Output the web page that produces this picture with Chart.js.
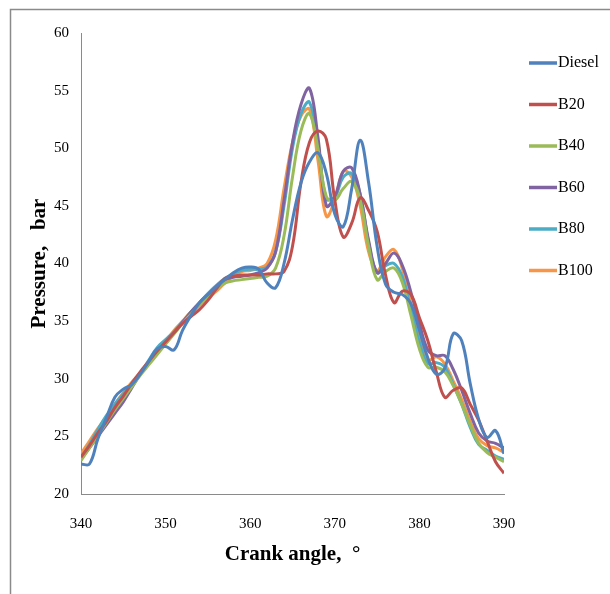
<!DOCTYPE html>
<html>
<head>
<meta charset="utf-8">
<script src="https://cdn.jsdelivr.net/npm/chart.js@4/dist/chart.umd.min.js"></script>
<style>
  html, body { margin: 0; padding: 0; background: #fff; }
  #wrap { width: 610px; height: 594px; }
</style>
</head>
<body>
<div id="wrap"><canvas id="c" width="610" height="594"></canvas></div>
<script>
// crank angle, degrees
var angles = [340,341,342,343,344,345,346,347,348,349,350,351,352,353,354,355,356,357,358,359,
              360,361,362,363,364,365,366,367,368,369,370,371,372,373,374,375,376,377,378,379,
              380,381,382,383,384,385,386,387,388,389,390];

// cylinder pressure, bar
var diesel = [22.6,22.6,24.8,26.6,28.4,29.1,29.5,30.4,31.5,32.6,32.8,32.5,34.2,35.5,36.6,37.3,38.0,38.6,39.2,39.6,
              39.7,39.5,38.3,37.9,40.0,43.8,47.0,48.8,49.6,47.8,44.3,43.2,46.5,50.7,47.0,41.5,38.2,37.5,37.3,36.5,
              34.2,31.8,30.4,30.9,33.9,33.3,29.6,26.5,24.9,25.5,23.5];
var b20    = [23.2,24.2,25.3,26.3,27.5,28.5,29.6,30.6,31.5,32.4,33.2,34.0,34.8,35.4,36.0,36.8,37.8,38.7,38.9,39.0,
              39.0,39.0,39.1,39.1,39.3,41.5,47.0,50.5,51.5,50.8,45.5,42.3,43.5,45.7,44.6,42.8,39.0,36.6,37.6,37.3,
              35.3,33.3,30.6,28.4,29.0,29.2,27.8,26.4,24.6,22.8,21.8];
var b40    = [22.9,24.0,25.1,26.2,27.3,28.3,29.3,30.3,31.2,32.1,33.0,33.9,34.8,35.6,36.4,37.1,37.8,38.3,38.5,38.6,
              38.7,38.8,38.9,39.6,42.4,47.5,51.5,53.0,50.0,45.8,45.5,46.5,47.1,45.5,41.5,38.6,39.3,39.6,38.3,35.5,
              32.6,31.0,31.0,30.6,29.4,27.8,26.0,24.4,23.6,23.2,22.8];
var b60    = [23.0,24.0,25.0,26.0,27.0,28.0,29.2,30.4,31.4,32.3,33.1,34.0,34.9,35.8,36.6,37.3,38.0,38.6,38.8,38.9,
              39.0,39.2,39.6,41.0,45.5,50.5,53.8,55.2,51.0,45.0,45.8,48.0,48.3,46.0,42.0,39.2,40.0,40.9,39.8,37.5,
              34.8,32.5,32.0,32.0,30.8,29.0,27.0,25.3,24.6,24.4,24.0];
var b80    = [23.1,24.3,25.6,26.8,27.8,28.7,29.5,30.4,31.6,32.7,33.4,34.1,34.9,35.8,36.6,37.4,38.1,38.7,39.1,39.4,
              39.5,39.5,39.7,41.0,45.0,50.0,53.0,54.0,50.5,45.6,45.8,47.5,47.8,46.0,41.8,39.2,39.8,40.0,38.8,36.0,
              33.2,31.3,31.4,31.0,29.5,27.8,25.8,24.3,23.8,23.3,23.0];
var b100   = [23.5,24.6,25.7,26.7,27.8,28.8,29.7,30.5,31.4,32.2,33.2,34.2,35.0,35.8,36.4,37.0,37.6,38.3,38.9,39.3,
              39.4,39.6,40.0,42.0,46.5,50.5,52.8,53.4,49.0,44.1,45.5,48.0,47.5,45.0,41.0,39.4,40.6,41.2,39.5,36.5,
              33.5,31.6,31.9,31.3,29.8,28.2,26.3,24.8,24.2,24.0,23.6];

var seriesNames  = ['Diesel', 'B20', 'B40', 'B60', 'B80', 'B100'];
var seriesValues = [diesel, b20, b40, b60, b80, b100];
var seriesColors = ['#4F81BD', '#C0504D', '#9BBB59', '#8064A2', '#4BACC6', '#F79646'];

var SERIF = "'Liberation Serif', 'Times New Roman', serif";

function points(vals) {
  return vals.map(function (v, i) { return { x: angles[i], y: v }; });
}

/* outer frame (top + left edges only, as in the source figure) */
var framePlugin = {
  id: 'frame',
  beforeDraw: function (chart) {
    var ctx = chart.ctx;
    ctx.save();
    ctx.strokeStyle = '#8a8a8a';
    ctx.lineWidth = 1.5;
    ctx.beginPath();
    ctx.moveTo(10.5, 594);
    ctx.lineTo(10.5, 9.5);
    ctx.lineTo(610, 9.5);
    ctx.stroke();
    ctx.restore();
  }
};

/* legend column at the right, built from the datasets */
var legendPlugin = {
  id: 'sideLegend',
  afterDraw: function (chart) {
    var ctx = chart.ctx;
    ctx.save();
    ctx.font = '16px ' + SERIF;
    ctx.textBaseline = 'middle';
    chart.data.datasets.forEach(function (ds, i) {
      var y = 63 + i * 41.5;
      ctx.strokeStyle = ds.borderColor;
      ctx.lineWidth = 3.5;
      ctx.beginPath();
      ctx.moveTo(529, y);
      ctx.lineTo(557, y);
      ctx.stroke();
      ctx.fillStyle = '#000';
      ctx.fillText(ds.label, 558, y);
    });
    ctx.restore();
  }
};

new Chart(document.getElementById('c'), {
  type: 'line',
  data: {
    datasets: seriesNames.map(function (name, i) {
      return {
        label: name,
        data: points(seriesValues[i]),
        borderColor: seriesColors[i],
        backgroundColor: seriesColors[i],
        borderWidth: 3,
        pointRadius: 0,
        tension: 0.4,
        fill: false
      };
    })
  },
  options: {
    responsive: false,
    animation: false,
    layout: { padding: { left: 0, top: 33, right: 106, bottom: 0 } },
    plugins: { legend: { display: false }, tooltip: { enabled: false } },
    scales: {
      x: {
        type: 'linear',
        min: 340, max: 390,
        afterFit: function (s) { s.height = 100; },
        grid: { display: false, drawTicks: false },
        border: { display: true, color: '#8a8a8a', width: 1 },
        ticks: { stepSize: 10, padding: 21, color: '#000', font: { family: SERIF, size: 15 } },
        title: {
          display: true, text: 'Crank angle,  \u00b0', color: '#000',
          font: { family: SERIF, size: 21, weight: 'bold' },
          padding: { top: 0, bottom: 27 }
        }
      },
      y: {
        min: 20, max: 60,
        afterFit: function (s) { s.width = 81; },
        grid: { display: false, drawTicks: false },
        border: { display: true, color: '#8a8a8a', width: 1 },
        ticks: { stepSize: 5, padding: 12, color: '#000', font: { family: SERIF, size: 15 } },
        title: {
          display: true, text: 'Pressure,   bar', color: '#000',
          font: { family: SERIF, size: 21, weight: 'bold' },
          padding: { top: 27, bottom: 0 }
        }
      }
    }
  },
  plugins: [framePlugin, legendPlugin]
});
</script>
</body>
</html>
